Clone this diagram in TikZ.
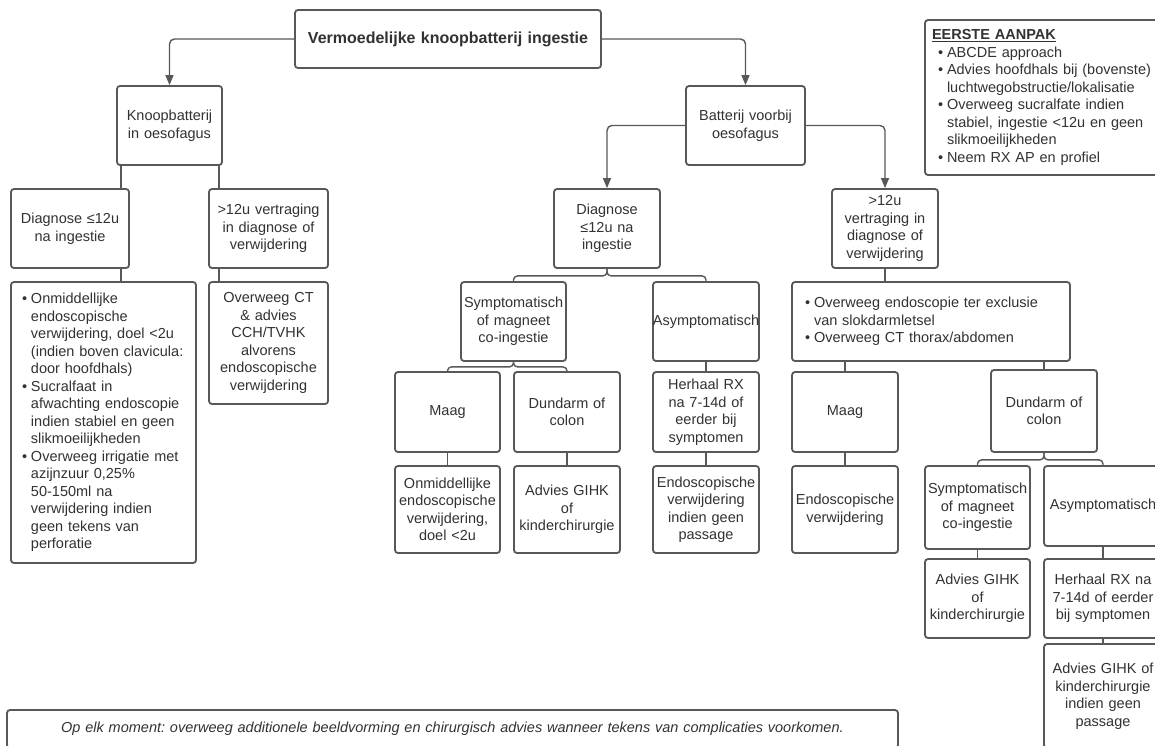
\documentclass[tikz,border=0pt]{standalone}
\usepackage{fontspec}
\setmainfont{Liberation Sans}
\usetikzlibrary{arrows.meta,calc,positioning}

\definecolor{linegray}{RGB}{88,88,88}
\definecolor{textgray}{RGB}{50,50,50}

% bullet for the list boxes
\newcommand{\bu}{\makebox[9pt][l]{\textbullet}}

\begin{document}
\frenchspacing
\begin{tikzpicture}[x=1pt,y=-1pt,
    box/.style={draw=linegray, line width=1.8pt, rounded corners=3pt, fill=white,
      text=textgray, align=center, inner xsep=3pt, inner ysep=0pt,
      font=\fontsize{14.5}{17.5}\selectfont},
    sz/.style 2 args={minimum width=#1pt, minimum height=#2pt, text width=#1pt-6pt},
    conn/.style={draw=linegray, line width=1.4pt},
    arr/.style={conn, -{Triangle[length=10pt,width=8pt]}, rounded corners=5pt},
    brace/.style={conn, rounded corners=4pt}]
  \clip (0,0) rectangle (1155,745);
  \fill[white] (0,0) rectangle (1155,745);

  % Top
  \node[box, sz={306}{58}, font=\bfseries\fontsize{16}{19}\selectfont] (title) at (448,39) {Vermoedelijke knoopbatterij ingestie};
  \node[box, sz={240}{155}, inner xsep=7pt, text width=226pt, align=left] (eerste) at (1045,97.5)
    {\begin{tabular}{@{\hspace{6pt}}l@{}l@{}}
       \multicolumn{2}{@{}l@{}}{\textbf{\underline{EERSTE AANPAK}}}\\
       \bu & ABCDE approach\\
       \bu & Advies hoofdhals bij (bovenste)\\
           & luchtwegobstructie/lokalisatie\\
       \bu & Overweeg sucralfate indien\\
           & stabiel, ingestie <12u en geen\\
           & slikmoeilijkheden\\
       \bu & Neem RX AP en profiel
     \end{tabular}};

  % Knoopbatterij in oesofagus
  \node[box, sz={105}{79}] (kno) at (169.5,125.5) {Knoopbatterij\\in oesofagus};
  \node[box, sz={118}{79}] (diaL) at (70,228.5) {Diagnose ≤12u\\na ingestie};
  \node[box, sz={119}{79}] (vertL) at (268.5,228.5) {>12u vertraging\\in diagnose of\\verwijdering};
  \node[box, sz={185}{281}, inner xsep=11pt, text width=163pt, align=left] (bulL) at (103.5,422.5)
    {\begin{tabular}{@{}l@{}l@{}}
       \bu & Onmiddellijke\\
           & endoscopische\\
           & verwijdering, doel <2u\\
           & (indien boven clavicula:\\
           & door hoofdhals)\\
       \bu & Sucralfaat in\\
           & afwachting endoscopie\\
           & indien stabiel en geen\\
           & slikmoeilijkheden\\
       \bu & Overweeg irrigatie met\\
           & azijnzuur 0,25\%\\
           & 50-150ml na\\
           & verwijdering indien\\
           & geen tekens van\\
           & perforatie
     \end{tabular}};
  \node[box, sz={119}{122}] (ctL) at (268.5,343) {Overweeg CT\\\& advies\\CCH/TVHK\\alvorens\\endoscopische\\verwijdering};

  % Batterij voorbij oesofagus, diagnose <=12u
  \node[box, sz={119}{79}] (bat) at (745.5,125.5) {Batterij voorbij\\oesofagus};
  \node[box, sz={106}{79}] (diaM) at (607,228.5) {Diagnose\\≤12u na\\ingestie};
  \node[box, sz={105}{79}] (sympM) at (513.5,321.5) {Symptomatisch\\of magneet\\co-ingestie};
  \node[box, sz={106}{79}] (asymM) at (706,321.5) {\makebox[0pt]{Asymptomatisch}};
  \node[box, sz={105}{80}] (maagM) at (447.5,412) {Maag};
  \node[box, sz={106}{80}] (dunM) at (567,412) {Dundarm of\\colon};
  \node[box, sz={106}{80}] (herM) at (706,412) {Herhaal RX\\na 7-14d of\\eerder bij\\symptomen};
  \node[box, sz={105}{87}] (onmM) at (447.5,509.5) {Onmiddellijke\\endoscopische\\verwijdering,\\doel <2u};
  \node[box, sz={106}{87}] (advM) at (567,509.5) {Advies GIHK\\of\\kinderchirurgie};
  \node[box, sz={106}{87}] (endM) at (706,509.5) {Endoscopische\\verwijdering\\indien geen\\passage};

  % Batterij voorbij oesofagus, >12u
  \node[box, sz={106}{79}] (vertR) at (885,228.5) {>12u\\vertraging in\\diagnose of\\verwijdering};
  \node[box, sz={278}{79}, inner xsep=13pt, text width=252pt, align=left] (bulR) at (931,321.5)
    {\begin{tabular}{@{}l@{}l@{}}
       \bu & Overweeg endoscopie ter exclusie\\
           & van slokdarmletsel\\
       \bu & Overweeg CT thorax/abdomen
     \end{tabular}};
  \node[box, sz={106}{80}] (maagR) at (845,412) {Maag};
  \node[box, sz={106}{82}] (dunR) at (1044,411) {Dundarm of\\colon};
  \node[box, sz={106}{87}] (endR) at (845,509.5) {Endoscopische\\verwijdering};
  \node[box, sz={105}{83}] (sympR) at (977.5,507.5) {Symptomatisch\\of magneet\\co-ingestie};
  \node[box, sz={118}{80}] (asymR) at (1103,506) {Asymptomatisch};
  \node[box, sz={105}{79}] (advR) at (977.5,598.5) {Advies GIHK\\of\\kinderchirurgie};
  \node[box, sz={118}{79}] (herR) at (1103,598.5) {Herhaal RX na\\7-14d of eerder\\bij symptomen};
  \node[box, sz={118}{104}] (advR2) at (1103,696) {Advies GIHK of\\kinderchirurgie\\indien geen\\passage};

  % Bottom note
  \node[box, sz={891}{38}, font=\itshape\fontsize{14.5}{17}\selectfont] (note) at (452.5,729)
    {Op elk moment: overweeg additionele beeldvorming en chirurgisch advies wanneer tekens van complicaties voorkomen.};

  % Connectors, left
  \draw[arr] (title.west) -| (kno.north);
  \draw[arr] (title.east) -| (bat.north);
  \coordinate (k1) at ([xshift=5pt]kno.south west);
  \coordinate (k2) at ([xshift=-4pt]kno.south east);
  \draw[conn] (k1) -- (k1 |- diaL.north);
  \draw[conn] (k1 |- diaL.south) -- (k1 |- bulL.north);
  \draw[conn] (k2) -- (k2 |- vertL.north);
  \draw[conn] (k2 |- vertL.south) -- (k2 |- ctL.north);

  % Connectors, right
  \draw[arr] (bat.west) -| (diaM.north);
  \draw[arr] (bat.east) -| (vertR.north);
  \foreach \c in {sympM,asymM} \draw[brace] (diaM.south) -- ++(0,7) -| (\c.north);
  \foreach \c in {maagM,dunM} \draw[brace] (sympM.south) -- ++(0,5) -| (\c.north);
  \draw[conn] (maagM) -- (onmM);
  \draw[conn] (dunM) -- (advM);
  \draw[conn] (asymM) -- (herM);
  \draw[conn] (herM) -- (endM);
  \draw[conn] (vertR.south) -- (vertR.south |- bulR.north);
  \draw[conn] (maagR.north |- bulR.south) -- (maagR.north);
  \draw[conn] (dunR.north |- bulR.south) -- (dunR.north);
  \draw[conn] (maagR) -- (endR);
  \foreach \c in {sympR,asymR} \draw[brace] (dunR.south) -- ++(0,7) -| (\c.north);
  \draw[conn] (sympR) -- (advR);
  \draw[conn] (asymR) -- (herR);
  \draw[conn] (herR) -- (advR2);
\end{tikzpicture}
\end{document}
